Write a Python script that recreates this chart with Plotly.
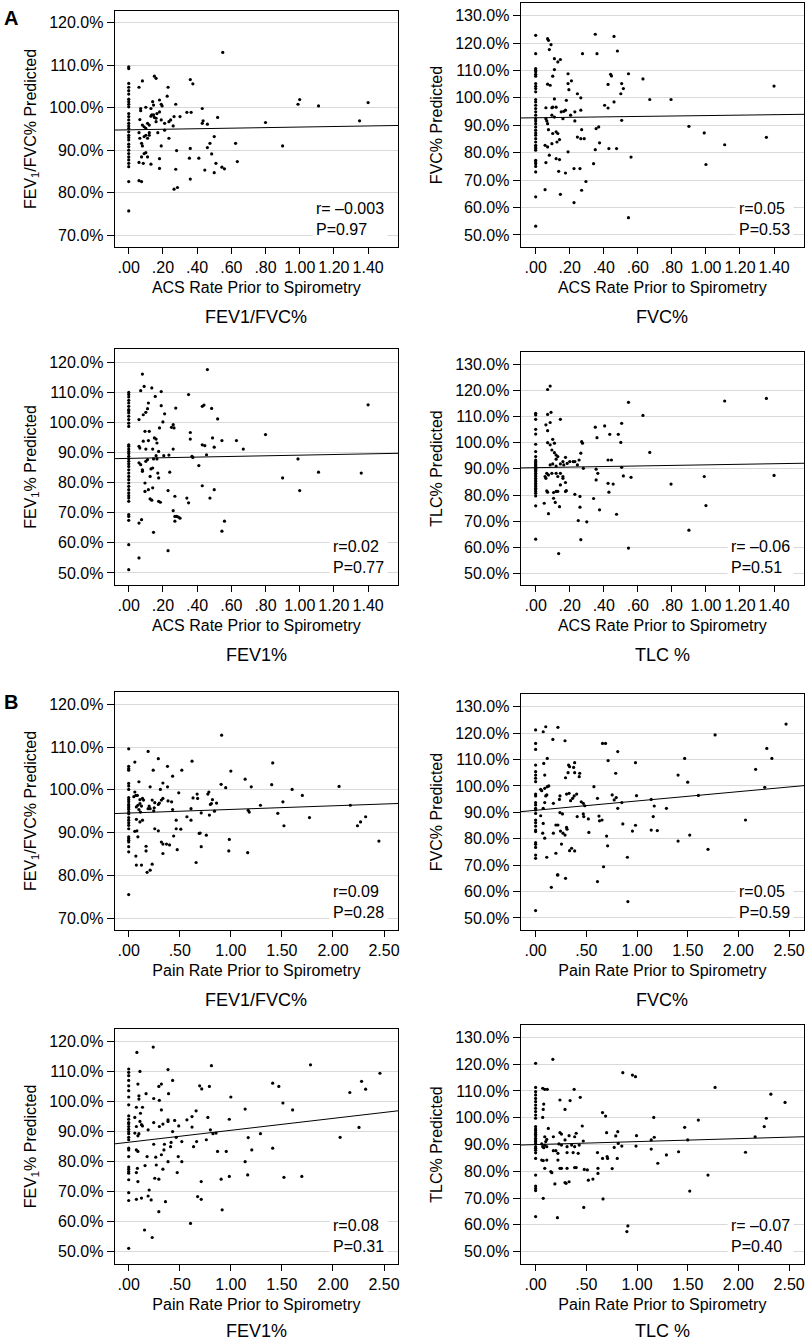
import plotly.graph_objects as go

# ---------------- DATA ----------------
acs_ticks = [0, 0.2, 0.4, 0.6, 0.8, 1.0, 1.2, 1.4]
acs_ticklabels = [".00", ".20", ".40", ".60", ".80", "1.00", "1.20", "1.40"]
pain_ticks = [0, 0.5, 1.0, 1.5, 2.0, 2.5]
pain_ticklabels = [".00", ".50", "1.00", "1.50", "2.00", "2.50"]

# Panel A1: ACS vs FEV1/FVC%
a1_zero = [109.6,109.2,105.7,104.8,104.0,103.2,102.0,101.4,100.8,100.2,98.6,97.9,97.1,96.3,95.7,95.1,94.3,93.5,93.0,92.4,91.4,90.8,90.0,89.2,88.4,87.7,86.9,86.1,82.6,75.7]
a1_pts = [(0.06,104.8),(0.08,106.3),(0.15,107.4),(0.16,106.9),(0.23,104.8),(0.225,102.7),(0.55,113.0),(0.36,106.6),(0.375,105.6),(0.07,99.8),(0.07,99.3),(0.10,100.1),(0.13,99.8),(0.14,101.4),(0.145,100.6),(0.18,101.8),(0.19,100.8),(0.195,100.4),(0.275,100.8),(0.065,97.2),(0.08,95.9),(0.09,95.5),(0.10,95.1),(0.11,96.3),(0.12,95.9),(0.13,98.0),(0.135,98.3),(0.145,98.3),(0.15,97.7),(0.16,97.5),(0.165,98.6),(0.16,96.7),(0.18,99.0),(0.19,97.1),(0.21,96.3),(0.235,96.7),(0.245,97.1),(0.26,95.7),(0.265,97.9),(0.30,97.9),(0.34,98.9),(0.365,98.9),(0.43,99.8),(0.43,96.3),(0.435,96.9),(0.46,96.1),(0.52,97.7),(0.80,96.5),(0.99,100.8),(1.00,101.9),(1.11,100.4),(1.35,96.9),(1.40,101.2),(0.90,91.0),(0.625,91.6),(0.635,87.3),(0.06,94.1),(0.065,92.8),(0.075,91.6),(0.08,91.0),(0.09,93.2),(0.10,93.5),(0.12,94.1),(0.12,93.5),(0.11,92.8),(0.17,94.1),(0.21,94.7),(0.235,92.8),(0.19,91.0),(0.09,89.2),(0.10,89.4),(0.075,88.4),(0.11,88.4),(0.06,87.1),(0.085,86.9),(0.13,86.7),(0.18,88.0),(0.18,85.7),(0.28,89.9),(0.275,85.5),(0.265,80.8),(0.285,81.2),(0.36,90.4),(0.355,88.1),(0.36,83.2),(0.41,88.1),(0.445,85.3),(0.46,90.6),(0.475,91.6),(0.485,89.1),(0.50,93.2),(0.51,86.9),(0.50,84.7),(0.545,86.0),(0.56,85.6),(0.06,82.8),(0.075,82.6)]

# Panel A2: ACS vs FVC%
a2_zero = [122.8,116.1,110.7,110.1,109.5,108.6,107.9,105.2,104.2,103.4,102.2,99.4,98.5,97.3,96.1,94.9,93.7,92.4,91.6,90.6,89.4,88.2,87.2,86.4,85.1,83.9,82.7,82.1,81.5,80.9,77.2,76.6,76.0,75.0,73.0,63.9,53.2]
a2_pts = [(0.07,121.6),(0.075,121.0),(0.08,117.6),(0.09,119.4),(0.11,114.3),(0.13,113.1),(0.145,114.0),(0.11,110.3),(0.10,107.9),(0.07,105.0),(0.085,104.6),(0.19,108.8),(0.21,106.2),(0.19,105.2),(0.195,103.0),(0.11,99.6),(0.06,96.4),(0.095,96.4),(0.10,96.6),(0.12,96.6),(0.18,99.1),(0.245,101.5),(0.265,100.0),(0.15,94.9),(0.165,95.1),(0.175,95.5),(0.16,92.4),(0.205,93.7),(0.23,94.9),(0.265,95.5),(0.275,116.1),(0.35,123.2),(0.36,116.1),(0.46,122.4),(0.48,117.1),(0.425,104.9),(0.44,108.6),(0.445,108.0),(0.545,108.8),(0.505,105.2),(0.515,103.4),(0.50,101.5),(0.46,98.5),(0.405,97.3),(0.425,96.3),(0.505,91.8),(0.63,106.9),(0.67,99.4),(0.795,99.4),(0.90,89.6),(0.99,87.2),(1.00,75.7),(1.11,82.9),(1.355,85.6),(1.40,104.3),(0.06,92.4),(0.065,91.6),(0.07,90.6),(0.075,88.4),(0.095,93.7),(0.11,93.0),(0.10,87.0),(0.12,87.6),(0.13,87.0),(0.14,84.8),(0.125,83.9),(0.095,83.3),(0.055,82.7),(0.07,82.1),(0.08,79.1),(0.06,76.4),(0.12,77.8),(0.14,77.5),(0.135,73.2),(0.175,72.6),(0.145,64.8),(0.055,66.5),(0.19,80.3),(0.225,74.2),(0.26,74.2),(0.27,66.3),(0.225,61.8),(0.295,69.5),(0.245,85.7),(0.265,85.1),(0.285,85.1),(0.27,88.4),(0.23,91.6),(0.355,88.8),(0.37,89.4),(0.375,83.6),(0.35,81.1),(0.43,81.5),(0.475,81.5),(0.34,76.0),(0.56,78.4),(0.545,56.3)]

# Panel A3: ACS vs FEV1%
a3_zero = [110.0,109.3,108.5,107.4,106.5,105.4,104.3,103.9,103.2,102.1,101.0,99.8,98.7,92.6,92.1,91.2,90.4,89.7,88.8,88.0,87.1,86.3,85.4,84.3,83.2,82.1,81.0,79.9,78.8,77.7,76.6,75.7,74.9,73.8,69.4,68.8,67.5,59.4,51.1]
a3_pts = [(0.08,116.1),(0.09,112.0),(0.07,110.6),(0.135,111.5),(0.155,108.7),(0.19,110.3),(0.19,105.6),(0.115,106.5),(0.11,104.6),(0.10,103.4),(0.085,102.6),(0.06,101.0),(0.21,102.9),(0.20,100.2),(0.26,99.3),(0.25,98.4),(0.265,98.2),(0.18,98.2),(0.275,104.8),(0.35,109.3),(0.46,117.6),(0.43,105.4),(0.44,105.8),(0.485,104.7),(0.52,101.2),(0.36,96.7),(0.36,94.5),(0.49,94.9),(0.50,91.8),(0.545,94.0),(0.63,94.0),(0.67,91.2),(0.80,96.0),(1.40,105.9),(0.99,87.9),(0.90,81.6),(1.11,83.5),(1.36,83.2),(1.00,77.4),(0.095,97.1),(0.12,97.1),(0.115,94.0),(0.085,93.8),(0.06,92.1),(0.065,91.5),(0.10,91.2),(0.15,94.9),(0.16,94.5),(0.165,93.2),(0.14,91.2),(0.175,90.4),(0.16,89.0),(0.165,87.9),(0.205,89.0),(0.235,89.2),(0.26,91.2),(0.145,87.9),(0.11,87.7),(0.10,87.1),(0.06,86.6),(0.07,86.0),(0.08,84.3),(0.08,83.8),(0.13,84.6),(0.14,84.9),(0.17,83.2),(0.175,81.6),(0.125,82.1),(0.24,83.5),(0.095,79.9),(0.115,77.7),(0.095,77.1),(0.14,78.3),(0.125,74.6),(0.135,74.2),(0.175,73.8),(0.185,73.5),(0.23,77.4),(0.27,75.5),(0.26,70.7),(0.27,68.8),(0.27,67.2),(0.28,68.8),(0.29,68.6),(0.30,68.2),(0.34,74.9),(0.35,73.3),(0.37,88.8),(0.375,88.4),(0.41,85.7),(0.455,89.3),(0.43,92.6),(0.445,92.3),(0.43,79.0),(0.475,74.9),(0.50,77.7),(0.06,66.6),(0.075,67.7),(0.145,63.5),(0.23,57.4),(0.06,55.0),(0.545,63.9),(0.56,67.2)]

# Panel A4: ACS vs TLC%
a4_zero = [111.2,110.6,108.9,105.1,103.3,99.4,96.6,94.7,93.4,92.8,92.4,91.9,91.5,91.1,90.6,90.2,89.9,89.4,89.0,88.3,87.7,87.1,86.4,85.8,85.2,84.5,83.9,83.3,82.6,82.0,81.4,80.7,79.7,75.9,63.2]
a4_pts = [(0.07,120.3),(0.085,121.6),(0.07,110.8),(0.09,111.6),(0.085,107.7),(0.06,106.8),(0.07,104.6),(0.145,108.9),(0.10,101.3),(0.11,99.8),(0.07,100.0),(0.085,99.2),(0.095,97.2),(0.11,96.2),(0.12,95.3),(0.13,94.7),(0.12,93.7),(0.175,94.4),(0.16,92.8),(0.145,91.9),(0.12,91.1),(0.10,91.9),(0.085,91.5),(0.165,91.5),(0.185,92.1),(0.20,92.8),(0.22,92.8),(0.23,92.8),(0.245,91.5),(0.255,93.4),(0.265,96.0),(0.27,100.4),(0.275,99.8),(0.28,90.2),(0.35,105.9),(0.36,101.9),(0.405,106.4),(0.435,103.2),(0.485,103.2),(0.505,107.4),(0.50,100.1),(0.545,115.4),(0.63,110.4),(0.67,96.3),(1.11,115.9),(1.355,116.9),(1.40,87.5),(0.99,87.1),(0.90,66.6),(1.00,76.0),(0.795,84.2),(0.425,93.4),(0.445,93.4),(0.355,89.9),(0.365,88.3),(0.355,85.8),(0.425,84.5),(0.455,84.2),(0.43,81.1),(0.505,90.6),(0.515,87.3),(0.56,86.8),(0.475,72.7),(0.545,59.8),(0.34,78.7),(0.375,74.4),(0.30,69.8),(0.25,70.3),(0.265,63.0),(0.26,75.4),(0.26,79.5),(0.23,80.3),(0.18,81.7),(0.175,81.4),(0.145,83.9),(0.175,84.8),(0.16,86.4),(0.16,87.1),(0.145,88.3),(0.13,87.1),(0.12,88.3),(0.095,88.3),(0.075,87.7),(0.065,88.3),(0.055,87.1),(0.06,86.4),(0.065,81.6),(0.07,81.1),(0.105,81.0),(0.12,81.4),(0.13,81.4),(0.105,78.8),(0.115,77.2),(0.05,76.9),(0.14,75.6),(0.075,72.9),(0.135,57.7)]

# Panel B1: Pain vs FEV1/FVC%
b1_zero = [109.6,105.5,105.0,104.6,101.5,100.9,100.1,98.2,97.7,97.2,96.6,96.2,95.8,95.4,94.8,94.4,93.5,92.9,92.3,91.7,90.9,89.0,88.6,88.2,87.8,86.7,85.5,75.5]
b1_pts = [(0.06,106.5),(0.19,109.0),(0.29,107.3),(0.24,104.6),(0.38,105.5),(0.43,103.2),(0.52,104.6),(0.62,106.7),(0.91,112.8),(1.00,104.4),(0.905,101.3),(0.95,100.5),(1.14,102.5),(1.20,100.7),(1.41,106.3),(1.40,101.2),(1.60,100.1),(1.70,98.7),(2.06,100.8),(2.17,96.4),(1.29,96.4),(1.51,97.2),(1.46,94.5),(1.52,91.6),(1.77,93.5),(2.24,91.6),(2.27,92.5),(2.32,93.7),(2.45,88.0),(1.17,95.2),(1.18,94.8),(0.98,85.7),(0.985,88.4),(1.165,85.3),(0.66,83.0),(0.86,96.9),(0.84,95.0),(0.82,97.7),(0.81,96.8),(0.80,96.6),(0.775,99.0),(0.785,99.5),(0.67,99.0),(0.675,98.0),(0.63,98.1),(0.61,95.6),(0.57,93.7),(0.61,92.9),(0.71,94.6),(0.70,89.9),(0.69,89.8),(0.76,89.4),(0.71,86.7),(0.79,94.1),(0.49,99.3),(0.51,90.8),(0.465,90.9),(0.465,92.9),(0.475,86.0),(0.44,89.2),(0.43,95.4),(0.385,97.4),(0.42,97.2),(0.335,98.0),(0.32,97.6),(0.31,100.1),(0.335,101.6),(0.38,100.7),(0.30,96.9),(0.29,96.6),(0.255,97.0),(0.25,95.8),(0.245,95.1),(0.255,90.9),(0.29,90.4),(0.32,87.8),(0.335,87.3),(0.37,87.3),(0.40,87.1),(0.335,85.1),(0.21,95.6),(0.20,96.2),(0.19,95.6),(0.21,100.7),(0.23,97.6),(0.145,97.6),(0.135,98.0),(0.11,97.7),(0.11,96.8),(0.09,96.4),(0.075,96.0),(0.085,98.7),(0.07,98.7),(0.06,99.5),(0.05,98.4),(0.10,101.9),(0.10,95.4),(0.115,94.8),(0.125,96.2),(0.135,92.9),(0.11,92.5),(0.075,93.1),(0.08,90.4),(0.06,90.3),(0.09,89.0),(0.07,84.5),(0.075,82.4),(0.125,82.4),(0.17,86.8),(0.17,85.7),(0.23,82.6),(0.21,81.2),(0.18,80.7)]

# Panel B2: Pain vs FVC%
b2_zero = [121.2,116.1,113.8,107.9,105.4,104.1,102.9,101.6,96.9,96.2,93.7,92.8,91.5,90.9,89.6,87.1,86.1,84.8,83.3,82.7,78.5,77.9,76.7,73.8,72.6,52.8]
b2_pts = [(0.10,122.4),(0.075,120.5),(0.22,122.2),(0.17,117.6),(0.29,117.1),(0.115,110.4),(0.08,108.5),(0.09,104.1),(0.05,98.7),(0.06,98.2),(0.09,99.1),(0.115,99.7),(0.13,100.0),(0.11,96.6),(0.10,96.2),(0.09,93.7),(0.075,91.5),(0.05,88.7),(0.075,85.8),(0.07,82.1),(0.09,80.2),(0.11,73.0),(0.175,93.4),(0.20,85.2),(0.22,85.2),(0.175,82.1),(0.245,82.9),(0.27,82.1),(0.29,81.4),(0.255,78.0),(0.20,74.5),(0.215,66.3),(0.22,66.3),(0.155,61.6),(0.295,65.0),(0.24,89.9),(0.265,89.4),(0.24,96.2),(0.235,94.9),(0.305,96.9),(0.33,97.2),(0.345,94.4),(0.365,95.3),(0.38,96.2),(0.405,96.9),(0.295,103.1),(0.32,105.0),(0.325,107.9),(0.335,107.3),(0.375,107.0),(0.385,108.8),(0.385,105.0),(0.435,104.8),(0.43,103.5),(0.45,94.0),(0.47,93.4),(0.485,92.5),(0.41,88.4),(0.47,89.4),(0.475,88.4),(0.52,87.5),(0.525,82.4),(0.305,84.3),(0.31,83.6),(0.335,75.5),(0.355,76.4),(0.385,75.4),(0.575,99.7),(0.61,95.3),(0.66,116.1),(0.69,116.1),(0.715,109.6),(0.81,113.0),(0.79,104.8),(0.625,88.6),(0.63,86.8),(0.655,87.1),(0.70,81.0),(0.71,77.3),(0.67,69.4),(0.61,63.8),(0.755,96.6),(0.775,94.7),(0.795,95.6),(0.81,91.5),(0.85,93.7),(0.86,85.6),(0.905,73.0),(0.91,56.2),(0.955,82.9),(0.985,85.1),(0.995,96.3),(0.985,108.8),(1.14,94.9),(1.17,92.4),(1.16,88.4),(1.14,83.3),(1.20,83.1),(1.29,91.5),(1.405,104.1),(1.47,110.4),(1.50,101.4),(1.405,79.1),(1.52,81.4),(1.605,96.4),(1.77,119.3),(1.70,76.0),(2.07,87.1),(2.17,106.3),(2.26,99.5),(2.28,114.2),(2.33,110.4),(2.47,123.4)]

# Panel B3: Pain vs FEV1%
b3_zero = [110.7,109.6,108.5,106.9,105.1,103.5,101.4,98.8,95.1,94.0,92.9,92.5,91.6,90.7,89.9,89.2,88.0,87.2,84.4,83.8,81.6,78.1,77.4,76.6,76.1,73.9,69.6,67.0,51.1]
b3_pts = [(0.08,116.2),(0.24,118.0),(0.11,109.9),(0.09,105.7),(0.10,101.8),(0.10,100.7),(0.075,98.0),(0.135,98.0),(0.115,96.0),(0.06,94.6),(0.11,93.3),(0.125,92.2),(0.135,91.8),(0.075,91.6),(0.06,89.4),(0.10,89.2),(0.09,88.5),(0.19,90.5),(0.17,102.5),(0.075,83.8),(0.09,83.3),(0.085,77.7),(0.075,76.3),(0.09,73.3),(0.075,67.4),(0.125,67.8),(0.16,78.6),(0.18,81.6),(0.20,70.5),(0.19,68.5),(0.22,67.2),(0.155,57.2),(0.23,54.7),(0.295,63.3),(0.245,100.9),(0.30,100.3),(0.32,97.1),(0.295,104.9),(0.32,105.7),(0.385,110.5),(0.39,102.5),(0.43,106.9),(0.245,92.9),(0.30,91.6),(0.335,92.4),(0.385,93.8),(0.385,93.3),(0.45,93.6),(0.43,89.9),(0.49,91.8),(0.465,88.0),(0.415,86.3),(0.41,84.9),(0.52,86.6),(0.245,85.7),(0.265,81.4),(0.27,78.8),(0.255,74.4),(0.295,74.1),(0.32,82.2),(0.345,83.8),(0.335,77.4),(0.35,85.7),(0.385,79.9),(0.36,66.6),(0.475,76.3),(0.485,81.6),(0.52,79.9),(0.57,93.8),(0.62,94.9),(0.62,91.4),(0.635,84.9),(0.665,86.6),(0.66,96.8),(0.695,105.1),(0.715,104.1),(0.71,73.3),(0.675,68.3),(0.71,67.4),(0.605,59.4),(0.76,87.2),(0.775,94.6),(0.79,104.9),(0.81,111.8),(0.80,90.5),(0.825,89.2),(0.855,89.4),(0.87,83.3),(0.955,83.3),(0.905,74.1),(0.915,63.9),(0.985,75.0),(0.985,94.0),(1.00,101.4),(1.14,97.4),(1.14,79.9),(1.17,87.9),(1.165,75.5),(1.205,83.8),(1.29,89.2),(1.41,106.0),(1.41,84.4),(1.47,104.9),(1.51,99.4),(1.52,74.7),(1.605,97.1),(1.695,75.0),(1.78,112.1),(2.07,88.0),(2.165,102.9),(2.255,91.3),(2.28,106.6),(2.32,104.0),(2.46,109.3)]

# Panel B4: Pain vs TLC%
b4_zero = [120.3,111.3,109.7,108.5,107.2,106.0,104.7,103.5,102.3,101.0,99.8,96.7,95.8,95.2,94.4,93.8,93.2,92.3,91.7,91.1,90.4,89.2,88.6,87.9,86.9,84.8,78.6,74.5,73.6,72.8,63.1]
b4_pts = [(0.17,121.8),(0.07,111.0),(0.09,110.6),(0.115,110.6),(0.08,105.1),(0.075,103.1),(0.07,100.1),(0.125,96.0),(0.09,92.9),(0.11,91.9),(0.10,91.1),(0.06,90.2),(0.07,89.2),(0.08,88.8),(0.09,89.8),(0.11,89.2),(0.06,84.2),(0.075,84.0),(0.11,84.2),(0.09,81.1),(0.15,79.9),(0.16,79.5),(0.175,92.9),(0.175,87.7),(0.20,87.7),(0.22,86.7),(0.22,84.2),(0.255,81.1),(0.19,75.3),(0.075,69.9),(0.215,62.7),(0.24,106.6),(0.34,106.4),(0.29,103.1),(0.38,110.6),(0.44,107.6),(0.24,94.4),(0.255,93.9),(0.23,90.2),(0.255,89.8),(0.29,91.7),(0.31,89.2),(0.31,87.0),(0.33,93.3),(0.355,89.8),(0.37,87.0),(0.385,92.9),(0.40,94.2),(0.385,89.2),(0.42,86.7),(0.43,89.8),(0.46,96.9),(0.47,91.3),(0.48,80.7),(0.475,66.5),(0.51,80.5),(0.52,76.7),(0.565,77.1),(0.385,81.4),(0.40,81.4),(0.31,81.1),(0.29,75.8),(0.30,75.5),(0.33,76.1),(0.24,81.1),(0.61,87.0),(0.615,81.1),(0.615,79.2),(0.66,101.9),(0.69,100.6),(0.665,69.7),(0.70,94.4),(0.705,85.5),(0.71,84.8),(0.66,84.8),(0.755,81.0),(0.775,88.9),(0.79,93.2),(0.81,94.8),(0.815,90.4),(0.805,84.8),(0.85,89.4),(0.86,116.8),(0.955,115.9),(0.985,115.3),(0.995,93.3),(0.99,89.4),(0.91,59.6),(0.90,57.5),(1.165,100.1),(1.17,92.7),(1.14,91.7),(1.14,88.3),(1.205,83.0),(1.29,86.1),(1.47,96.4),(1.50,91.7),(1.41,87.3),(1.52,72.6),(1.605,99.1),(1.70,78.6),(1.77,111.3),(2.07,87.1),(2.165,92.9),(2.255,96.7),(2.275,99.8),(2.32,108.8),(2.46,105.7)]

# regression lines: (intercept, slope)
fit_lines = [(94.78, 0.65), (92.74, 0.80), (88.09, 1.07), (90.47, 1.07),
             (94.57, 0.847), (90.77, 3.53), (86.37, 3.96), (89.97, 1.11)]
stats = ["r= –0.003<br>P=0.97", "r=0.05<br>P=0.53", "r=0.02<br>P=0.77", "r= –0.06<br>P=0.51",
         "r=0.09<br>P=0.28", "r=0.05<br>P=0.59", "r=0.08<br>P=0.31", "r= –0.07<br>P=0.40"]
y_titles = ["FEV<sub>1</sub>/FVC% Predicted", "FVC% Predicted", "FEV<sub>1</sub>% Predicted", "TLC% Predicted"] * 2
panel_labels = ["FEV1/FVC%", "FVC%", "FEV1%", "TLC %"] * 2

# ---------------- LAYOUT CONFIG ----------------
W, H = 810, 1343
FONT = "Liberation Sans, Arial, Helvetica, sans-serif"
zeros = [a1_zero, a2_zero, a3_zero, a4_zero, b1_zero, b2_zero, b3_zero, b4_zero]
pts = [a1_pts, a2_pts, a3_pts, a4_pts, b1_pts, b2_pts, b3_pts, b4_pts]
boxes = [  # (left, right, top, bottom) in px
    (115, 399, 11, 247), (522, 806, 3, 247),
    (115, 399, 349, 585), (522, 806, 352, 585),
    (115, 399, 692, 930), (522, 806, 694, 930),
    (115, 399, 1029, 1264), (522, 806, 1025, 1264),
]
xranges = [[-0.082, 1.575], [-0.088, 1.576], [-0.082, 1.575], [-0.088, 1.576],
           [-0.137, 2.637], [-0.147, 2.647], [-0.137, 2.637], [-0.147, 2.647]]
yranges = [[67.2, 122.75], [45.6, 134.6], [46.0, 124.45], [45.7, 134.6],
           [67.2, 122.9], [45.45, 134.8], [45.9, 124.0], [45.4, 134.6]]
label_y = [317, 317, 655, 655, 1000, 1000, 1331, 1331]

fig = go.Figure()
annotations = []
for i in range(8):
    n = "" if i == 0 else str(i + 1)
    xa, ya = "x" + n, "y" + n
    xs = [0.0] * len(zeros[i]) + [p[0] for p in pts[i]]
    ys = list(zeros[i]) + [p[1] for p in pts[i]]
    fig.add_trace(go.Scatter(x=xs, y=ys, mode="markers", xaxis=xa, yaxis=ya,
                             marker=dict(size=3.2, color="black"), showlegend=False,
                             hoverinfo="skip"))
    b0, b1 = fit_lines[i]
    lx = xranges[i]
    fig.add_trace(go.Scatter(x=lx, y=[b0 + b1 * v for v in lx], mode="lines",
                             xaxis=xa, yaxis=ya, line=dict(color="black", width=1),
                             showlegend=False, hoverinfo="skip"))
    l, r, t, bt = boxes[i]
    acs = i < 4
    fig.layout["xaxis" + n] = dict(
        domain=[l / W, r / W], anchor=ya, range=xranges[i],
        tickvals=acs_ticks if acs else pain_ticks,
        ticktext=acs_ticklabels if acs else pain_ticklabels,
        ticks="outside", ticklen=6, tickcolor="black", showgrid=False, zeroline=False,
        showline=True, linecolor="black", linewidth=1.2, mirror=True,
        tickfont=dict(size=16, color="black", family=FONT),
        title=dict(text="ACS Rate Prior to Spirometry" if acs else "Pain Rate Prior to Spirometry",
                   font=dict(size=16, color="black", family=FONT), standoff=6),
    )
    fig.layout["yaxis" + n] = dict(
        domain=[1 - bt / H, 1 - t / H], anchor=xa, range=yranges[i],
        tick0=0, dtick=10, tickformat=".1f", ticksuffix="%",
        ticks="outside", ticklen=7, tickcolor="black",
        showgrid=True, gridcolor="#d9d9d9", gridwidth=1, zeroline=False,
        showline=True, linecolor="black", linewidth=1.2, mirror=True,
        tickfont=dict(size=16, color="black", family=FONT),
        title=dict(text=y_titles[i], font=dict(size=16, color="black", family=FONT), standoff=8),
    )
    annotations.append(dict(text=stats[i], xref=xa + " domain", yref=ya + " domain",
                            x=0.965, y=0.02, xanchor="right", yanchor="bottom", align="left",
                            showarrow=False, bgcolor="white", borderpad=3,
                            font=dict(size=16, color="black", family=FONT)))
    annotations.append(dict(text=panel_labels[i], xref="paper", yref="paper",
                            x=(l + r) / 2 / W, y=1 - label_y[i] / H, xanchor="center",
                            yanchor="middle", showarrow=False,
                            font=dict(size=18, color="black", family=FONT)))

annotations.append(dict(text="<b>A</b>", xref="paper", yref="paper", x=2 / W, y=1 - 18 / H,
                        xanchor="left", yanchor="middle", showarrow=False,
                        font=dict(size=20, color="black", family=FONT)))
annotations.append(dict(text="<b>B</b>", xref="paper", yref="paper", x=2 / W, y=1 - 702 / H,
                        xanchor="left", yanchor="middle", showarrow=False,
                        font=dict(size=20, color="black", family=FONT)))

fig.update_layout(width=W, height=H, margin=dict(l=0, r=0, t=0, b=0),
                  paper_bgcolor="white", plot_bgcolor="white",
                  annotations=annotations, font=dict(family=FONT, color="black"))

fig.write_html("out.html", config={"displayModeBar": False},
               post_script="document.body.style.margin='0';document.body.style.overflow='hidden';")
